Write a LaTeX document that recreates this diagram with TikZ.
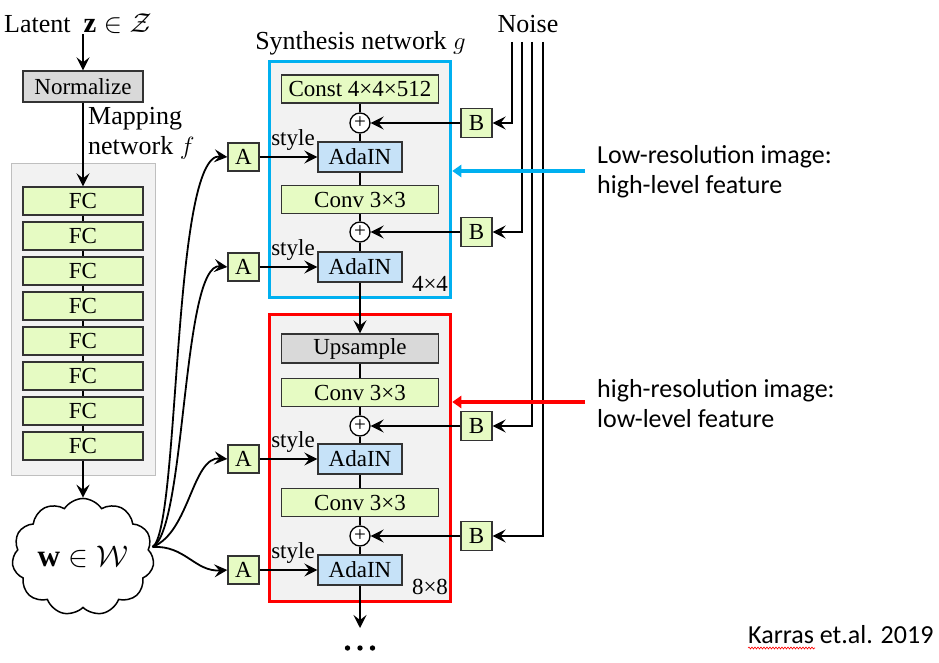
\documentclass[tikz,border=0pt]{standalone}
\usepackage{fontspec}
\setmainfont{Liberation Serif}
\newfontfamily\calibrifont{Carlito}
\usetikzlibrary{arrows.meta,shapes.symbols,decorations.pathmorphing,calc}
\definecolor{boxgreen}{HTML}{E6FBC3}
\definecolor{boxblue}{HTML}{C6E2F8}
\definecolor{boxgray}{HTML}{D9D9D9}
\definecolor{bggray}{HTML}{F2F2F2}
\definecolor{bgborder}{HTML}{BFBFBF}
\definecolor{lowblue}{HTML}{00B0F0}
\definecolor{highred}{HTML}{FF0000}
\definecolor{edgecol}{HTML}{333333}
\begin{document}
\begin{tikzpicture}[x=1pt,y=-1pt,
  base/.style={draw=edgecol, line width=1.3pt, inner sep=0pt, font=\fontsize{23}{27}\selectfont},
  gbox/.style={base, fill=boxgreen, minimum width=157pt, minimum height=28pt},
  graybox/.style={base, fill=boxgray, minimum width=157pt, minimum height=29pt},
  fcbox/.style={base, fill=boxgreen, minimum width=120pt, minimum height=28pt},
  adabox/.style={base, fill=boxblue, minimum width=84pt, minimum height=30pt},
  smallbox/.style={base, fill=boxgreen, minimum width=31pt, minimum height=28pt},
  plus/.style={circle, draw=black, line width=1.3pt, fill=white, minimum size=20pt, inner sep=0pt, font=\fontsize{21}{21}\selectfont},
  conn/.style={black, line width=1.8pt},
  arr/.style={conn, -{Stealth[length=13pt,width=13pt,inset=5pt]}},
  stage/.style={line width=3.5pt, fill=bggray, inner sep=0pt, minimum width=181pt},
  lbl/.style={font=\fontsize{26}{30}\selectfont, inner sep=0pt},
  smalllbl/.style={font=\fontsize{23}{27}\selectfont, inner sep=0pt},
  note/.style={font=\calibrifont\fontsize{26}{30}\selectfont, align=left, inner sep=0pt, anchor=north west},
  callout/.style={line width=3.5pt, -{Triangle[length=9pt,width=12pt]}}
]
\useasboundingbox (0,0) rectangle (939,663);

% ---------- backgrounds ----------
\node[draw=bgborder, fill=bggray, line width=1.2pt, minimum width=144pt, minimum height=312pt, inner sep=0pt] (mapbg) at (83.5,319.5) {};
\node[stage, draw=lowblue, minimum height=236pt] (blue) at (360,179.5) {};
\node[stage, draw=highred, minimum height=287pt] (red) at (360,458) {};

% ---------- mapping network ----------
\node[lbl, anchor=base west] (latent) at (4,33) {Latent\ \ \scalebox{1.1}{$\mathbf{z}\in\mathcal{Z}$}};
\node[base, fill=boxgray, minimum width=120pt, minimum height=31pt] (norm) at (83,86.5) {Normalize};
\node[lbl, anchor=north west, align=left] (maplbl) at (88,107) {Mapping\\network $f$};
\foreach \i in {1,...,8} {
  \node[fcbox] (fc\i) at (83,{201+35*(\i-1)}) {FC};
}
\node[cloud, draw=black, line width=1.5pt, fill=white, cloud puffs=11, cloud puff arc=115,
      aspect=1.27, minimum width=142pt, minimum height=112pt, inner sep=0pt,
      font=\fontsize{26}{30}\selectfont] (w) at (83,557) {\scalebox{1.2}{$\mathbf{w}\in\mathcal{W}$}};
\coordinate (wout) at ($(w.east)+(-1,-10)$);

% ---------- A boxes ----------
\node[smallbox] (A1) at (243.5,157) {A};
\node[smallbox] (A2) at (243.5,267) {A};
\node[smallbox] (A3) at (243.5,459) {A};
\node[smallbox] (A4) at (243.5,570) {A};

% ---------- synthesis network ----------
\node[lbl, anchor=base] (synlbl) at (360.5,50) {Synthesis network $g$};
\node[lbl, anchor=base] (noise) at (528,33) {Noise};

\node[gbox] (const) at (360,89) {Const 4×4×512};
\node[plus] (p1) at (360,123) {+};
\node[adabox] (ada1) at (360,157) {AdaIN};
\node[gbox] (conv1) at (360,199.5) {Conv 3×3};
\node[plus] (p2) at (360,232) {+};
\node[adabox] (ada2) at (360,267) {AdaIN};
\node[smalllbl] (res4) at (430,284) {4×4};

\node[graybox] (ups) at (360,348.5) {Upsample};
\node[gbox] (conv2) at (360,392.5) {Conv 3×3};
\node[plus] (p3) at (360,426) {+};
\node[adabox] (ada3) at (360,459) {AdaIN};
\node[gbox] (conv3) at (360,502.5) {Conv 3×3};
\node[plus] (p4) at (360,536) {+};
\node[adabox] (ada4) at (360,570) {AdaIN};
\node[smalllbl] (res8) at (430,587) {8×8};
\coordinate (more) at (360,628);

\node[smalllbl] (st1) at (293,140) {style};
\node[smalllbl] (st2) at (293,250) {style};
\node[smalllbl] (st3) at (293,442) {style};
\node[smalllbl] (st4) at (293,553) {style};

% ---------- B boxes ----------
\node[smallbox, minimum height=29pt] (B1) at (476.5,123) {B};
\node[smallbox, minimum height=29pt] (B2) at (476.5,232) {B};
\node[smallbox, minimum height=29pt] (B3) at (476.5,426) {B};
\node[smallbox, minimum height=29pt] (B4) at (476.5,536) {B};

\coordinate (n1) at (512,42);
\coordinate (n2) at (522,42);
\coordinate (n3) at (532,42);
\coordinate (n4) at (543,42);

% ---------- connectors ----------
\draw[arr] (latent.south -| norm.north) -- (norm.north);
\draw[arr] (norm.south) -- (fc1.north);
\foreach \i [evaluate=\i as \j using int(\i+1)] in {1,...,7} {
  \draw[conn] (fc\i.south) -- (fc\j.north);
}
\draw[arr] (fc8.south) -- (w.north);

\draw[arr] (wout) .. controls (180,530) and (172,152) .. (A1.west);
\draw[arr] (wout) .. controls (186,530) and (182,262) .. (A2.west);
\draw[arr] (wout) .. controls (190,532) and (192,456) .. (A3.west);
\draw[arr] (wout) .. controls (185,545) and (195,572) .. (A4.west);

\draw[arr] (A1) -- (ada1);
\draw[arr] (A2) -- (ada2);
\draw[arr] (A3) -- (ada3);
\draw[arr] (A4) -- (ada4);

\draw[conn] (const) -- (p1);
\draw[conn] (p1) -- (ada1);
\draw[conn] (ada1) -- (conv1);
\draw[conn] (conv1) -- (p2);
\draw[conn] (p2) -- (ada2);
\draw[arr] (ada2) -- (ups);
\draw[conn] (ups) -- (conv2);
\draw[conn] (conv2) -- (p3);
\draw[conn] (p3) -- (ada3);
\draw[conn] (ada3) -- (conv3);
\draw[conn] (conv3) -- (p4);
\draw[conn] (p4) -- (ada4);
\draw[arr] (ada4) -- (more);

\draw[arr] (B1) -- (p1);
\draw[arr] (B2) -- (p2);
\draw[arr] (B3) -- (p3);
\draw[arr] (B4) -- (p4);

\draw[arr] (n1) |- (B1);
\draw[arr] (n2) |- (B2);
\draw[arr] (n3) |- (B3);
\draw[arr] (n4) |- (B4);

\fill (347.5,648) circle (2.7pt);
\fill (360,648) circle (2.7pt);
\fill (372.5,648) circle (2.7pt);

% ---------- annotations ----------
\coordinate (lowfrom) at (585,171);
\coordinate (highfrom) at (585,402);
\draw[callout, lowblue] (lowfrom) -- (lowfrom -| blue.east);
\draw[callout, highred] (highfrom) -- (highfrom -| red.east);
\node[note] (lowtxt) at (597,145) {Low-resolution image:\\high-level feature};
\node[note] (hightxt) at (597,379) {high-resolution image:\\low-level feature};

\node[anchor=base west, font=\calibrifont\fontsize{26}{30}\selectfont, inner sep=0pt] (cite) at (748,643) {Karras et.al. 2019};
\draw[highred, line width=0.6pt, decorate, decoration={snake, amplitude=1pt, segment length=3pt}]
  ($(cite.base west)+(0,5)$) -- ($(cite.base west)+(67,5)$);
\end{tikzpicture}
\end{document}
